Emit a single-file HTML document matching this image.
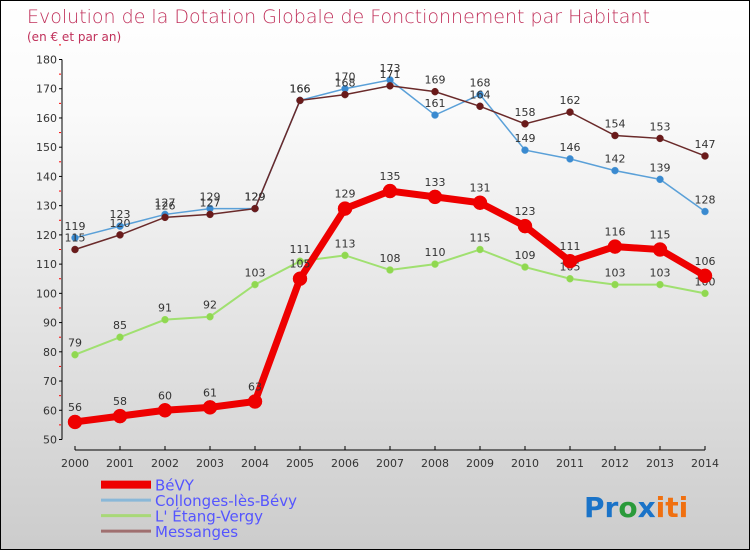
<!DOCTYPE html>
<html><head><meta charset="utf-8"><style>
body{margin:0}
#c{width:748px;height:548px;border:1px solid #000;background:linear-gradient(#fff,#fafafa 20%,#ccc);position:relative;overflow:hidden;font-family:"DejaVu Sans","Liberation Sans",sans-serif}
</style></head><body>
<div id="c">
<svg width="748" height="548" id="svg">
<text x="26" y="22" font-size="19" fill="#c0305a" font-family="DejaVu Sans,sans-serif" font-weight="200">Evolution de la Dotation Globale de Fonctionnement par Habitant</text>
<text x="26" y="40" font-size="12" fill="#c0305a">(en € et par an)</text>
<g id="axes"></g><g id="series"></g><g id="legend"></g>
<text x="583" y="516" font-size="28" font-weight="bold" font-family="DejaVu Sans,sans-serif"><tspan fill="#1a73c8">Pr</tspan><tspan fill="#2a9a3a">o</tspan><tspan fill="#1a73c8">x</tspan><tspan fill="#f07010">iti</tspan></text>
</svg></div>
<script>
const years=[2000,2001,2002,2003,2004,2005,2006,2007,2008,2009,2010,2011,2012,2013,2014];
const yTicks=[50,60,70,80,90,100,110,120,130,140,150,160,170,180];
const bevy=[56,58,60,61,63,105,129,135,133,131,123,111,116,115,106];
const collonges=[119,123,127,129,129,166,170,173,161,168,149,146,142,139,128];
const etang=[79,85,91,92,103,111,113,108,110,115,109,105,103,103,100];
const messanges=[115,120,126,127,129,166,168,171,169,164,158,162,154,153,147];
const names=["BéVY","Collonges-lès-Bévy","L' Étang-Vergy","Messanges"];
const NS="http://www.w3.org/2000/svg";
const X=i=>74+i*45, Y=v=>438.5-(v-50)*2.923;
function mk(t,a,p){const e=document.createElementNS(NS,t);for(const k in a)e.setAttribute(k,a[k]);p.appendChild(e);return e;}
const ax=document.getElementById('axes');
const yl=mk('line',{x1:61,y1:Y(180),x2:61,y2:Y(50),stroke:'#000'},ax);


yTicks.forEach(v=>{mk('line',{x1:58,x2:61,y1:Y(v),y2:Y(v),stroke:'#000'},ax);
 mk('line',{x1:58,x2:60,y1:Y(v+5),y2:Y(v+5),stroke:'red'},ax);
 const t=mk('text',{x:56,y:Y(v)+4,'text-anchor':'end','font-size':11,fill:'#333'},ax);t.textContent=v;
 
 });
const xl=mk('line',{x1:X(0),x2:X(14),y1:449,y2:449,stroke:'#000'},ax);


years.forEach((y,i)=>{mk('line',{x1:X(i),x2:X(i),y1:445,y2:449,stroke:'#000'},ax);
 const t=mk('text',{x:X(i),y:466,'text-anchor':'middle','font-size':11,fill:'#333'},ax);t.textContent=y;
 
 });
const S=document.getElementById('series');
function draw(d,col,lw,r,fill,name,labDy){
 const g=mk('g',{},S);
 
 
 mk('polyline',{points:d.map((v,i)=>X(i)+','+Y(v)).join(' '),fill:'none',stroke:col,'stroke-width':lw},g);
 d.forEach((v,i)=>{const c=mk('circle',{cx:X(i),cy:Y(v),r:r,fill:fill,stroke:col,'stroke-width':0.5},g);
  
  
  const t=mk('text',{x:X(i),y:Y(v)-labDy,'text-anchor':'middle','font-size':11,fill:'#333'},g);t.textContent=v;
  
  });
}
draw(etang,'#a0e070',2,3.5,'#90d850','series-etang-vergy',8);
draw(collonges,'#5aa0d8',1.5,3.5,'#3a8ad0','series-collonges',8);
draw(messanges,'#6a2a2a',1.5,3.5,'#6a1a1a','series-messanges',8);
draw(bevy,'#ee0000',7,7,'#ee0000','series-bevy',11);
const L=document.getElementById('legend');
const cols=['#ee0000','#8ab8d8','#a8d878','#a07070'],lws=[8,3,3,3];
names.forEach((n,i)=>{const y=524-112/3+i*15.5-6+3;
 const g=mk('g',{},L);
 
 
 mk('line',{x1:100,x2:150,y1:y,y2:y,stroke:cols[i],'stroke-width':lws[i]},g);
 const t=mk('text',{x:154,y:y+6,'font-size':15,fill:'#5555ff'},g);t.textContent=n;});
</script>
</body></html>
